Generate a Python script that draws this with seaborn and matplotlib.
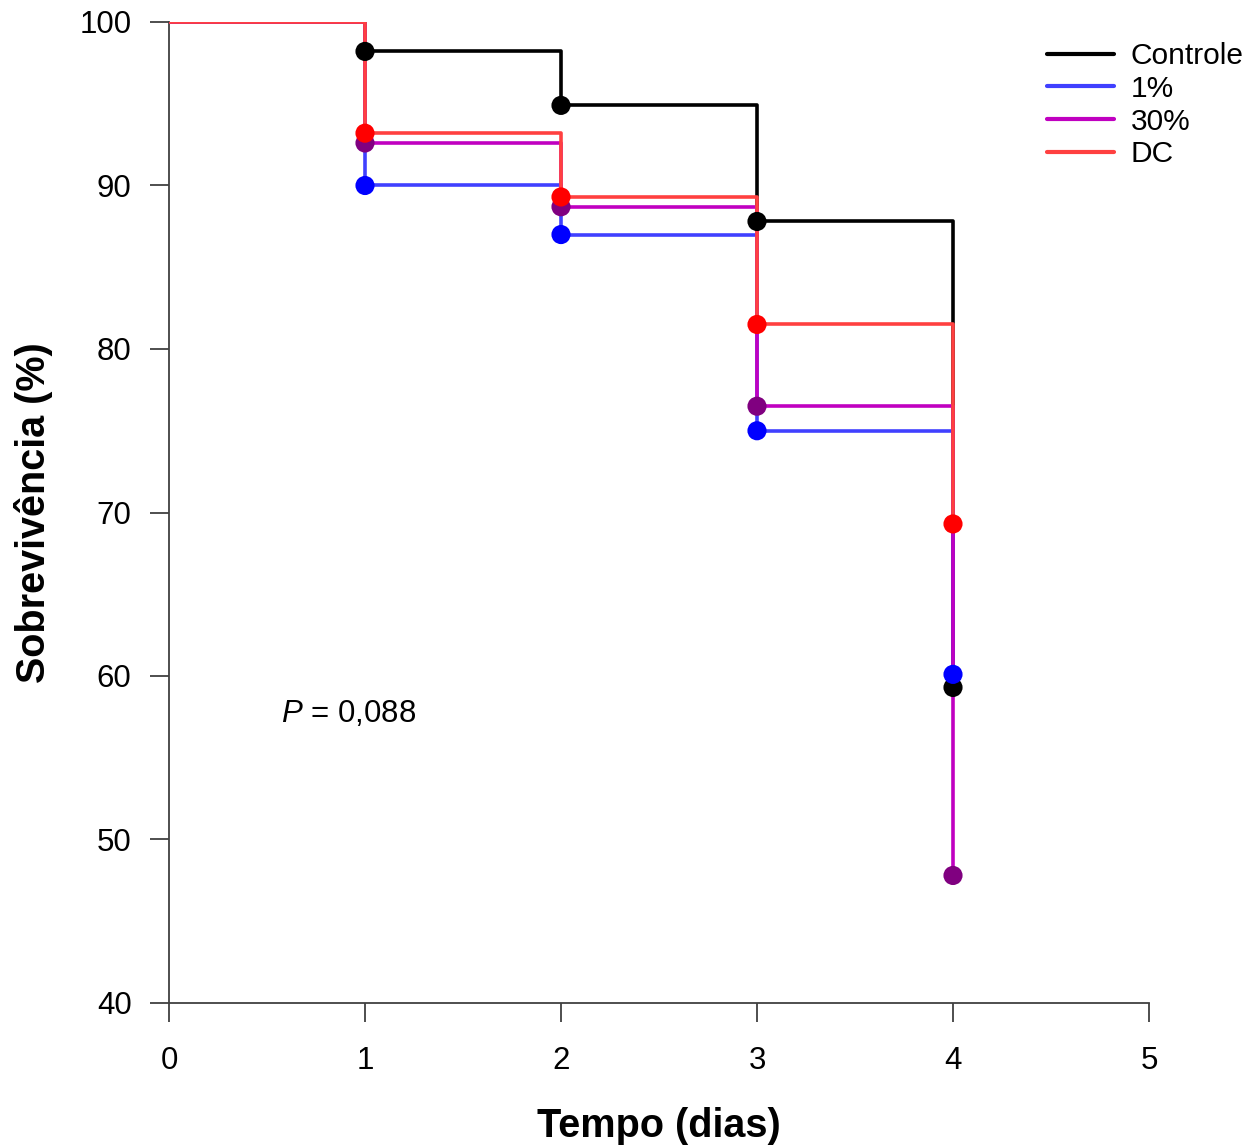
import matplotlib
matplotlib.use("Agg")
import matplotlib.pyplot as plt
import seaborn as sns
import pandas as pd

sns.set_theme(style="ticks")
plt.rcParams['font.family'] = ['Liberation Sans', 'DejaVu Sans']
plt.rcParams['mathtext.fontset'] = 'custom'
plt.rcParams['mathtext.it'] = 'Liberation Sans:italic'
plt.rcParams['mathtext.rm'] = 'Liberation Sans'
plt.rcParams['text.color'] = 'black'

days = [0, 1, 2, 3, 4]
groups = ["Controle", "1%", "30%", "DC"]
controle = [100, 98.2, 94.9, 87.8, 59.3]
um_pct = [100, 90.0, 87.0, 75.0, 60.1]
trinta_pct = [100, 92.6, 88.7, 76.5, 47.8]
dc = [100, 93.2, 89.3, 81.5, 69.3]
series = [controle, um_pct, trinta_pct, dc]

line_colors = ["#000000", "#4040ff", "#c000c0", "#ff4040"]
marker_colors = ["#000000", "#0000ff", "#800080", "#ff0000"]

rows = []
for g, vals in zip(groups, series):
    for d, v in zip(days, vals):
        rows.append({"Tempo": d, "Sobrevivencia": v, "Grupo": g})
df = pd.DataFrame(rows)

fig = plt.figure(figsize=(12.59, 11.46), dpi=100)
ax = fig.add_axes([169/1259, 1-1003/1146, (1149-169)/1259, (1003-22)/1146])

for i, g in enumerate(groups):
    sub = df[df["Grupo"] == g]
    sns.lineplot(data=sub, x="Tempo", y="Sobrevivencia", ax=ax, color=line_colors[i],
                 drawstyle="steps-post", linewidth=2.6, label=g, zorder=2 + i,
                 estimator=None)
for i, g in enumerate(groups):
    sub = df[(df["Grupo"] == g) & (df["Tempo"] > 0)]
    sns.scatterplot(data=sub, x="Tempo", y="Sobrevivencia", ax=ax, color=marker_colors[i],
                    s=190, edgecolor="none", zorder=10 + i, legend=False)

ax.set_xlim(0, 5)
ax.set_ylim(40, 100)
ax.set_xticks([0, 1, 2, 3, 4, 5])
ax.set_yticks([40, 50, 60, 70, 80, 90, 100])
ax.tick_params(axis="both", labelsize=22.5, length=14, width=1.3, direction="out",
               color="#404040", labelcolor="black")
ax.tick_params(axis="y", pad=13)
ax.tick_params(axis="x", pad=17)
for s in ["top", "right"]:
    ax.spines[s].set_visible(False)
for s in ["left", "bottom"]:
    ax.spines[s].set_color("#404040")
    ax.spines[s].set_linewidth(1.3)

ax.set_xlabel("Tempo (dias)", fontsize=28.5, fontweight="bold", labelpad=22, color="black")
ax.set_ylabel("Sobrevivência (%)", fontsize=28.5, fontweight="bold", labelpad=19, color="black")

ax.text(0.57, 57.7, r"$\it{P}$ = 0,088", fontsize=22.5, va="center", ha="left", color="black")

leg = ax.legend(loc="upper left", bbox_to_anchor=(1047/1259, 1-42/1146),
                bbox_transform=fig.transFigure, frameon=False, fontsize=21.5,
                handlelength=2.25, handletextpad=0.55, labelspacing=0.16,
                borderaxespad=0, borderpad=0)
for h in leg.get_lines():
    h.set_linewidth(3)
for t in leg.get_texts():
    t.set_color("black")

fig.savefig("out.png", dpi=100)
